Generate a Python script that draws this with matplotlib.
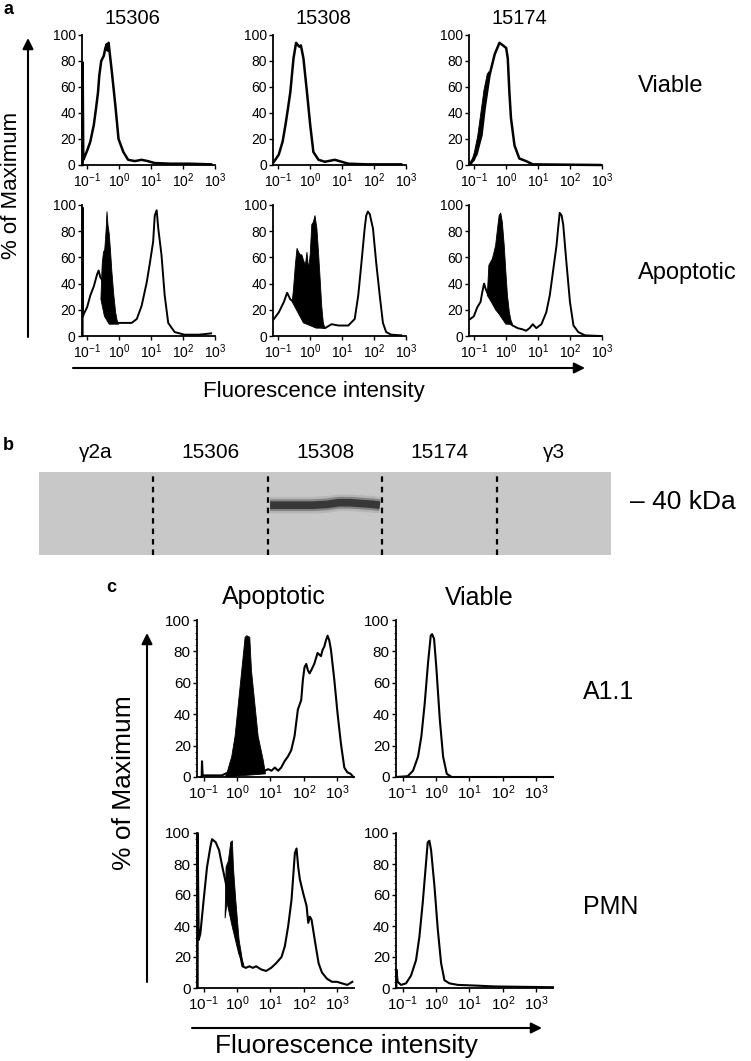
import numpy as np
import matplotlib
matplotlib.use("Agg")
import matplotlib.pyplot as plt
from matplotlib.ticker import FixedLocator, LogLocator, NullLocator, LogFormatterSciNotation, MultipleLocator

plt.rcParams["font.family"] = ["Liberation Sans", "DejaVu Sans"]
plt.rcParams["mathtext.default"] = "regular"

W, H = 751, 1061

# ── panel a: flow histograms, x = log10(intensity), y = % of max ──────────
A_COLS = ["15306", "15308", "15174"]
A_ROWS = ["Viable", "Apoptotic"]

# viable row
a_v1_x = [-1.13, -1.13, -1.11, -1.09, -0.99, -0.89, -0.78, -0.71, -0.65, -0.61, -0.55, -0.47, -0.42,
          -0.38, -0.35, -0.32, -0.28, -0.22, -0.11, -0.01, 0.14, 0.29, 0.5, 0.71, 0.9, 1.12, 1.6, 2.2, 2.88]
a_v1_y = [0, 79, 4, 5, 11, 18, 31, 44, 56, 69, 80, 84, 90, 93, 88, 94, 85, 72, 46, 20, 10, 4, 3, 4, 3,
          1.5, 1, 1, 0.5]
a_v2_x = [-1.12, -0.97, -0.85, -0.76, -0.68, -0.61, -0.56, -0.51, -0.43, -0.33, -0.28, -0.2, -0.09,
          0.01, 0.11, 0.27, 0.47, 0.78, 1.2, 1.8, 2.85]
a_v2_y = [2.5, 8, 18, 31, 44, 56, 69, 82, 94, 91, 92, 82, 56, 31, 10, 4, 2.5, 4, 1, 0.5, 0.5]
a_v3_x = [-1.12, -0.92, -0.76, -0.66, -0.51, -0.35, -0.2, -0.09, 0.01, 0.06, 0.11, 0.16, 0.27, 0.42,
          0.63, 0.84, 2.95]
a_v3_y = [1, 8, 23, 44, 69, 85, 94, 92, 90, 82, 56, 36, 15, 5, 3, 0.5, 0]
# isotype sliver showing on the left shoulder
a_v3_fx = [-1.1, -0.98, -0.88, -0.78, -0.68, -0.58, -0.52, -0.56, -0.64, -0.73, -0.84, -0.97]
a_v3_fy = [0, 10, 22, 40, 58, 70, 72, 64, 48, 32, 16, 4]

# apoptotic row
a_p1_x = [-1.13, -1.13, -1.12, -1.09, -0.99, -0.89, -0.78, -0.68, -0.63, -0.58, -0.45, -0.3, -0.15,
          -0.05, 0.1, 0.2, 0.4, 0.56, 0.71, 0.87, 0.97, 1.07, 1.12, 1.18, 1.23, 1.33, 1.43, 1.54,
          1.74, 2.05, 2.5, 2.88]
a_p1_y = [0, 98, 15, 17, 22, 31, 38, 47, 50, 45, 40, 30, 15, 10, 10, 10, 10, 13, 23, 41, 56, 72, 92,
          96, 82, 62, 31, 10, 3, 1, 1, 2]
a_p1_fx = [-0.56, -0.52, -0.48, -0.44, -0.40, -0.37, -0.34, -0.30, -0.26, -0.22, -0.16, -0.10,
           -0.04, 0.0, -0.3, -0.45]
a_p1_fy = [28, 55, 64, 66, 80, 95, 85, 78, 65, 50, 32, 18, 10, 9, 9, 15]

a_p2_x = [-1.12, -0.97, -0.81, -0.71, -0.61, -0.51, -0.3, 0.0, 0.3, 0.47, 0.68, 0.89, 1.2, 1.4, 1.51,
          1.61, 1.71, 1.76, 1.81, 1.87, 1.97, 2.07, 2.18, 2.28, 2.38, 2.54, 2.85]
a_p2_y = [13, 18, 26, 33, 28, 26, 20, 12, 7, 6, 9, 8, 8, 13, 31, 56, 82, 92, 95, 93, 82, 56, 31, 10,
          3, 1, 0.5]
a_p2_fx = [-0.55, -0.51, -0.45, -0.40, -0.35, -0.30, -0.25, -0.20, -0.14, -0.09, -0.04, 0.01, 0.06,
           0.11, 0.16, 0.22, 0.27, 0.32, 0.37, 0.42, 0.47, 0.2, -0.2]
a_p2_fy = [26, 36, 55, 67, 64, 62, 62, 58, 54, 64, 51, 62, 85, 87, 92, 82, 64, 44, 23, 10, 6, 6, 10]

a_p3_x = [-1.11, -1.0, -0.89, -0.79, -0.74, -0.68, -0.63, -0.58, -0.3, 0.0, 0.21, 0.37, 0.53, 0.63,
          0.74, 0.84, 0.95, 1.11, 1.26, 1.37, 1.47, 1.58, 1.63, 1.68, 1.74, 1.79, 1.89, 2.0, 2.11,
          2.26, 2.47, 2.95]
a_p3_y = [13, 15, 22, 26, 33, 40, 36, 33, 20, 12, 8, 6, 5, 4, 6, 9, 6, 9, 18, 31, 49, 69, 82, 94, 92,
          85, 56, 26, 8, 3, 0.5, 0]
a_p3_fx = [-0.58, -0.53, -0.42, -0.32, -0.26, -0.21, -0.16, -0.11, -0.05, 0.0, 0.05, 0.11, 0.16,
           0.21, 0.0, -0.3]
a_p3_fy = [31, 54, 59, 69, 82, 92, 94, 87, 69, 49, 31, 18, 12, 9, 9, 20]

# ── panel b: western blot lanes ───────────────────────────────────────────
B_LANES = ["γ2a", "15306", "15308", "15174", "γ3"]
band_x = [2.02, 2.12, 2.25, 2.4, 2.52, 2.62, 2.72, 2.82, 2.92, 2.98]
band_y = [0.60, 0.60, 0.60, 0.60, 0.61, 0.63, 0.63, 0.62, 0.61, 0.60]

# ── panel c: A1.1 and PMN ─────────────────────────────────────────────────
C_COLS = ["Apoptotic", "Viable"]
C_ROWS = ["A1.1", "PMN"]

c_a1_apo_x = [-1.10, -1.06, -1.05, -1.03, -0.95, -0.46, -0.26, -0.06, 0.3, 0.83, 0.93, 1.03, 1.13,
              1.23, 1.32, 1.42, 1.52, 1.62, 1.72, 1.82, 1.92, 1.97, 2.02, 2.07, 2.12, 2.17, 2.22,
              2.31, 2.41, 2.51, 2.56, 2.61, 2.66, 2.71, 2.76, 2.81, 2.91, 3.01, 3.11, 3.21, 3.3, 3.4,
              3.48]
c_a1_apo_y = [0, 0, 10, 1, 1, 1, 3, 4, 4, 4, 5, 4, 6, 4, 6, 10, 13, 17, 26, 43, 49, 62, 70, 72, 68,
              66, 68, 72, 79, 77, 81, 83, 87, 90, 87, 81, 62, 40, 21, 6, 3, 2, 0]
c_a1_apo_fx = [-0.36, -0.31, -0.16, -0.06, 0.04, 0.14, 0.24, 0.29, 0.38, 0.43, 0.53, 0.63, 0.78, 0.85]
c_a1_apo_fy = [0, 2, 13, 26, 47, 68, 89, 90, 89, 68, 47, 26, 11, 2]

c_a1_via_x = [-1.2, -0.85, -0.69, -0.54, -0.44, -0.34, -0.24, -0.16, -0.12, -0.06, 0.01, 0.11, 0.21,
              0.32, 0.47, 3.5]
c_a1_via_y = [0, 0.5, 4, 13, 26, 47, 73, 90, 91, 88, 69, 37, 13, 2, 0, 0]

c_pmn_apo_x = [-1.18, -1.18, -1.15, -1.10, -1.0, -0.9, -0.8, -0.75, -0.64, -0.54, -0.44, -0.34,
               -0.24, -0.09, 0.06, 0.16, 0.26, 0.37, 0.47, 0.57, 0.72, 0.87, 1.02, 1.17, 1.33, 1.43,
               1.53, 1.63, 1.73, 1.78, 1.83, 1.88, 1.98, 2.08, 2.13, 2.18, 2.23, 2.34, 2.44, 2.54,
               2.69, 2.84, 2.99, 3.14, 3.3, 3.45]
c_pmn_apo_y = [0, 100, 31, 35, 57, 78, 91, 96, 94, 89, 78, 68, 57, 40, 25, 14, 13, 14, 13, 14, 12,
               11, 13, 16, 20, 27, 40, 57, 87, 90, 78, 70, 61, 53, 42, 46, 44, 29, 16, 10, 6, 4, 4,
               3, 2, 4]
c_pmn_apo_fx = [-0.36, -0.33, -0.26, -0.19, -0.14, -0.11, -0.04, 0.06, 0.16, 0.21, 0.05, -0.15, -0.3]
c_pmn_apo_fy = [45, 78, 82, 94, 95, 78, 57, 31, 18, 14, 22, 40, 55]

c_pmn_via_x = [-1.19, -1.19, -1.15, -1.05, -0.9, -0.75, -0.6, -0.5, -0.4, -0.3, -0.25, -0.2, -0.15,
               -0.05, 0.05, 0.15, 0.25, 0.4, 0.65, 1.25, 1.75, 3.5]
c_pmn_via_y = [0, 12, 4, 2, 3, 8, 18, 33, 55, 81, 94, 95, 89, 66, 38, 16, 5, 3, 2, 1.5, 1, 0.5]


def px_box(x0, y0, x1, y1):
    return [x0 / W, 1 - y1 / H, (x1 - x0) / W, (y1 - y0) / H]


def hist_axes(fig, box, xlo, xhi, fs, minor=False):
    ax = fig.add_axes(px_box(*box))
    ax.set_xscale("log")
    ax.set_xlim(10 ** xlo, 10 ** xhi)
    ax.set_ylim(0, 100)
    ax.set_yticks([0, 20, 40, 60, 80, 100])
    ax.xaxis.set_major_locator(FixedLocator([0.1, 1, 10, 100, 1000]))
    ax.xaxis.set_major_formatter(LogFormatterSciNotation())
    if minor:
        ax.xaxis.set_minor_locator(LogLocator(subs=range(2, 10)))
        ax.yaxis.set_minor_locator(MultipleLocator(4))
        ax.tick_params(which="minor", length=1.5, width=0.6)
    else:
        ax.xaxis.set_minor_locator(NullLocator())
    for s in ("top", "right"):
        ax.spines[s].set_visible(False)
    for s in ("left", "bottom"):
        ax.spines[s].set_linewidth(1.3)
    ax.tick_params(which="major", direction="out", length=3, width=1, labelsize=fs, pad=1.5)
    ax.patch.set_alpha(0)
    return ax


def draw_hist(ax, ox, oy, fx=None, fy=None, lw=1.4):
    if fx is not None:
        ax.fill(10 ** np.array(fx), fy, color="black", lw=0.6, zorder=2)
    ax.plot(10 ** np.array(ox), oy, color="black", lw=lw, zorder=3, clip_on=False)


fig = plt.figure(figsize=(W / 100, H / 100), dpi=100)
fig.patch.set_facecolor("white")

# ── panel a ──────────────────────────────────────────────────────────────
a_left = [82, 273, 469]
a_rows = [(35, 165), (205, 336)]
a_data = [
    [(a_v1_x, a_v1_y, None, None), (a_v2_x, a_v2_y, None, None), (a_v3_x, a_v3_y, a_v3_fx, a_v3_fy)],
    [(a_p1_x, a_p1_y, a_p1_fx, a_p1_fy), (a_p2_x, a_p2_y, a_p2_fx, a_p2_fy),
     (a_p3_x, a_p3_y, a_p3_fx, a_p3_fy)],
]
for r, (top, bot) in enumerate(a_rows):
    for c, x0 in enumerate(a_left):
        ax = hist_axes(fig, (x0, top, x0 + 133, bot), -1.15, 3.0, 10)
        ox, oy, fx, fy = a_data[r][c]
        draw_hist(ax, ox, oy, fx, fy, lw=1.8 if r == 0 else 1.4)

# ── panel b ──────────────────────────────────────────────────────────────
axb = fig.add_axes(px_box(39, 472, 611, 555))
axb.set_xlim(0, len(B_LANES))
axb.set_ylim(0, 1)
axb.set_facecolor("#c8c8c8")
for s in axb.spines.values():
    s.set_visible(False)
axb.set_xticks([])
axb.set_yticks([])
for i in range(1, len(B_LANES)):
    axb.axvline(i, color="black", lw=1.6, ls=(0, (2.5, 2.2)))
for i, lab in enumerate(B_LANES):
    axb.text(i + 0.5, 1.24, lab, ha="center", va="center", fontsize=15, clip_on=False)
for lw, alpha, col in [(12, 0.15, "#555555"), (8.5, 0.4, "#3a3a3a"), (5.5, 0.85, "#2b2b2b")]:
    axb.plot(band_x, band_y, color=col, lw=lw, alpha=alpha, solid_capstyle="butt")
axb.text(5.17, 0.64, "– 40 kDa", ha="left", va="center", fontsize=19, clip_on=False)

# ── panel c ──────────────────────────────────────────────────────────────
c_left = [197, 396]
c_rows = [(620, 777), (833, 988)]
c_data = [
    [(c_a1_apo_x, c_a1_apo_y, c_a1_apo_fx, c_a1_apo_fy), (c_a1_via_x, c_a1_via_y, None, None)],
    [(c_pmn_apo_x, c_pmn_apo_y, c_pmn_apo_fx, c_pmn_apo_fy), (c_pmn_via_x, c_pmn_via_y, None, None)],
]
for r, (top, bot) in enumerate(c_rows):
    for c, x0 in enumerate(c_left):
        ax = hist_axes(fig, (x0, top, x0 + 157, bot), -1.2, 3.5, 11, minor=True)
        ox, oy, fx, fy = c_data[r][c]
        draw_hist(ax, ox, oy, fx, fy, lw=1.5)

# ── overlay: labels and arrows in pixel coordinates ──────────────────────
ov = fig.add_axes([0, 0, 1, 1])
ov.set_xlim(0, W)
ov.set_ylim(H, 0)
ov.axis("off")
ov.patch.set_alpha(0)

arrow = dict(arrowstyle="-|>", color="black", lw=1.5, mutation_scale=16, shrinkA=0, shrinkB=0)

ov.text(3, 10, "a", fontsize=13, fontweight="bold", ha="left", va="center")
for c, lab in enumerate(A_COLS):
    ov.text(a_left[c] + 50, 18, lab, fontsize=14.5, ha="center", va="center")
ov.text(638, 86, A_ROWS[0], fontsize=17, ha="left", va="center")
ov.text(638, 273, A_ROWS[1], fontsize=17, ha="left", va="center")
ov.annotate("", xy=(28, 38), xytext=(28, 337), arrowprops=arrow)
ov.text(12, 185, "% of Maximum", rotation=90, fontsize=16, ha="center", va="center")
ov.annotate("", xy=(585, 368), xytext=(73, 368), arrowprops=arrow)
ov.text(314, 391, "Fluorescence intensity", fontsize=16, ha="center", va="center")

ov.text(3, 445, "b", fontsize=13, fontweight="bold", ha="left", va="center")

ov.text(106, 587, "c", fontsize=13, fontweight="bold", ha="left", va="center")
ov.text(274, 597, C_COLS[0], fontsize=18, ha="center", va="center")
ov.text(479, 598, C_COLS[1], fontsize=18, ha="center", va="center")
ov.text(583, 692, C_ROWS[0], fontsize=18, ha="left", va="center")
ov.text(583, 907, C_ROWS[1], fontsize=18, ha="left", va="center")
ov.annotate("", xy=(147, 633), xytext=(147, 982), arrowprops=arrow)
ov.text(124, 783, "% of Maximum", rotation=90, fontsize=19, ha="center", va="center")
ov.annotate("", xy=(542, 1028), xytext=(192, 1028), arrowprops=arrow)
ov.text(346, 1046, "Fluorescence intensity", fontsize=19, ha="center", va="center")

fig.savefig("out.png", dpi=100, facecolor="white")
